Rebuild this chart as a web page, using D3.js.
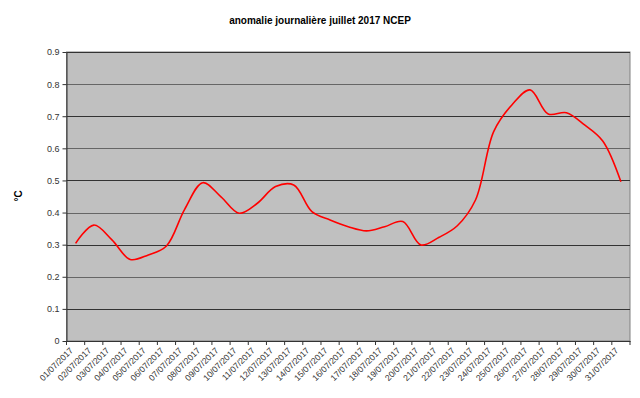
<!doctype html>
<html>
<head>
<meta charset="utf-8">
<script src="https://d3js.org/d3.v7.min.js"></script>
<style>
body { margin: 0; background: #fff; }
text { font-family: "Liberation Sans", Arial, sans-serif; }
</style>
</head>
<body>
<script>
var days = [];
for (var d = 1; d <= 31; d++) days.push((d < 10 ? "0" + d : "" + d) + "/07/2017");

var anomaly = [0.304, 0.361, 0.315, 0.254, 0.268, 0.296, 0.410, 0.493, 0.449, 0.398,
               0.429, 0.481, 0.486, 0.403, 0.377, 0.356, 0.343, 0.356, 0.372, 0.299,
               0.323, 0.359, 0.439, 0.652, 0.735, 0.782, 0.707, 0.711, 0.673, 0.623, 0.496];

var yTicks = [0, 0.1, 0.2, 0.3, 0.4, 0.5, 0.6, 0.7, 0.8, 0.9];

var W = 640, H = 398;
var plotL = 66.5, plotR = 630, plotT = 52, plotB = 341;

var svg = d3.select("body").append("svg").attr("width", W).attr("height", H);

var x = d3.scaleBand().domain(days).range([plotL, plotR]);
var y = d3.scaleLinear().domain([0, 0.9]).range([plotB, plotT]);

// plot area
svg.append("rect")
    .attr("x", plotL).attr("y", plotT)
    .attr("width", plotR - plotL).attr("height", plotB - plotT)
    .attr("fill", "#c0c0c0").attr("stroke", "#808080").attr("stroke-width", 1);

// grid lines
svg.selectAll("line.grid")
    .data(yTicks.slice(1))
    .enter()
    .append("line")
    .attr("class", "grid")
    .attr("x1", plotL).attr("x2", plotR)
    .attr("y1", function (v) { return Math.round(y(v)) + 0.5; })
    .attr("y2", function (v) { return Math.round(y(v)) + 0.5; })
    .attr("stroke", function (v, i) { return i % 2 == 0 ? "#333" : "#666"; })
    .attr("stroke-width", 1);

// y axis
var yAxis = svg.append("g")
    .attr("transform", "translate(" + plotL + ",0)")
    .call(d3.axisLeft(y).tickValues(yTicks).tickSize(4).tickSizeOuter(0)
        .tickFormat(function (v) { return v === 0 ? "0" : d3.format(".1f")(v); }));
yAxis.select(".domain").attr("stroke", "#333");
yAxis.selectAll(".tick line").attr("stroke", "#333");
yAxis.selectAll("text").attr("font-size", 9).attr("fill", "#333")
    .attr("font-family", "'Liberation Sans', Arial, sans-serif");

// x axis
var xAxis = svg.append("g")
    .attr("transform", "translate(0," + plotB + ")")
    .call(d3.axisBottom(x).tickSize(0).tickSizeOuter(0));
xAxis.select(".domain").attr("stroke", "#333");
xAxis.selectAll("text")
    .attr("font-size", 8.6).attr("fill", "#333")
    .attr("font-family", "'Liberation Sans', Arial, sans-serif")
    .attr("text-anchor", "end")
    .attr("dy", 0).attr("y", 0)
    .attr("transform", "translate(-2,10) rotate(-45)");

// x ticks at category boundaries
svg.selectAll("line.xt")
    .data(days.concat(["end"]))
    .enter()
    .append("line")
    .attr("x1", function (d, i) { return i < days.length ? x(d) : plotR; })
    .attr("x2", function (d, i) { return i < days.length ? x(d) : plotR; })
    .attr("y1", plotB).attr("y2", plotB + 4)
    .attr("stroke", "#333");

// line
var line = d3.line()
    .x(function (v, i) { return x(days[i]) + x.bandwidth() / 2; })
    .y(function (v) { return y(v); })
    .curve(d3.curveCatmullRom.alpha(0.5));

svg.append("path")
    .datum(anomaly)
    .attr("d", line)
    .attr("fill", "none")
    .attr("stroke", "#ff0000")
    .attr("stroke-width", 1.6);

// title
svg.append("text")
    .attr("x", 320).attr("y", 24)
    .attr("text-anchor", "middle")
    .attr("font-size", 10).attr("font-weight", "bold")
    .text("anomalie journalière juillet 2017 NCEP");

// y label
svg.append("text")
    .attr("transform", "translate(22,196) rotate(-90)")
    .attr("text-anchor", "middle")
    .attr("font-size", 10).attr("font-weight", "bold")
    .text("°C");
</script>
</body>
</html>
